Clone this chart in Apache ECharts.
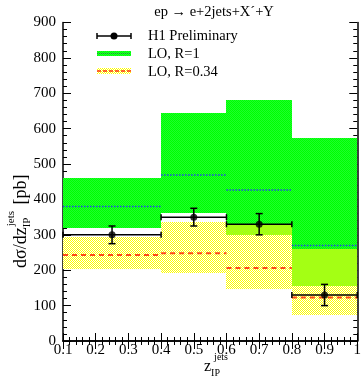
<!DOCTYPE html>
<html>
<head>
<meta charset="utf-8">
<script src="https://cdn.jsdelivr.net/npm/echarts@6/dist/echarts.min.js"></script>
<style>
  html, body { margin: 0; padding: 0; background: #fff; }
  #chart { width: 364px; height: 379px; }
</style>
</head>
<body>
<div id="chart"></div>
<script>
// Bin edges in z_IP^jets
const binLo = [0.1, 0.4, 0.6, 0.8];
const binHi = [0.4, 0.6, 0.8, 1.0];

// LO prediction, R = 1 (band and central value) [pb]
const r1Low     = [318, 362, 300, 156];
const r1High    = [462, 643, 680, 573];
const r1Central = [380, 469, 427, 270];

// LO prediction, R = 0.34 (band and central value) [pb]
const r034Low     = [203, 191, 147, 73];
const r034High    = [293, 337, 327, 259];
const r034Central = [243, 248, 206, 123];

// H1 preliminary measurement
const dataX   = [0.25, 0.5, 0.7, 0.9];
const dataY   = [300, 350, 330, 130];
const dataErr = [25, 25, 30, 30];

const yTicks = [0, 100, 200, 300, 400, 500, 600, 700, 800, 900];

const SERIF = "'Liberation Serif', 'DejaVu Serif', serif";

// Opaque 2x2 dithered fill tiles
function makeTile(colA, colB) {
  const c = document.createElement('canvas');
  c.width = 2; c.height = 2;
  const g = c.getContext('2d');
  g.fillStyle = colA; g.fillRect(0, 0, 1, 1); g.fillRect(1, 1, 1, 1);
  g.fillStyle = colB; g.fillRect(1, 0, 1, 1); g.fillRect(0, 1, 1, 1);
  return { type: 'pattern', image: c, repeat: 'repeat' };
}
const greenFill   = makeTile('#00ff00', '#1cff2c');
const yellowFill  = makeTile('#ffff00', '#ffffff');
const overlapFill = '#a4ff14';

function rectSeries(rows, fill, z) {
  return {
    type: 'custom',
    coordinateSystem: 'cartesian2d',
    z: z,
    silent: true,
    data: rows,
    renderItem: (params, api) => {
      const p0 = api.coord([api.value(0), api.value(3)]);
      const p1 = api.coord([api.value(1), api.value(2)]);
      return {
        type: 'rect',
        shape: { x: Math.round(p0[0]), y: Math.round(p0[1]),
                 width: Math.round(p1[0]) - Math.round(p0[0]),
                 height: Math.round(p1[1]) - Math.round(p0[1]) },
        style: { fill: fill }
      };
    }
  };
}
const r1Rows   = binLo.map((b, i) => [binLo[i], binHi[i], r1Low[i], r1High[i]]);
const r034Rows = binLo.map((b, i) => [binLo[i], binHi[i], r034Low[i], r034High[i]]);
// Where the two bands overlap the colours mix
const overlapRows = binLo.map((b, i) => [binLo[i], binHi[i],
  Math.max(r1Low[i], r034Low[i]), Math.min(r1High[i], r034High[i])])
  .filter(r => r[3] > r[2]);

function centralSeries(vals, color, width, dash, z) {
  return {
    type: 'custom',
    coordinateSystem: 'cartesian2d',
    z: z,
    silent: true,
    data: binLo.map((b, i) => [binLo[i], binHi[i], vals[i]]),
    renderItem: (params, api) => {
      const a = api.coord([api.value(0), api.value(2)]);
      const b = api.coord([api.value(1), api.value(2)]);
      return {
        type: 'line',
        shape: { x1: a[0], y1: a[1], x2: b[0], y2: b[1] },
        style: { stroke: color, lineWidth: width, lineDash: dash }
      };
    }
  };
}

// Error bars: full bin width horizontally, statistical error vertically
const errorSeries = {
  type: 'custom',
  coordinateSystem: 'cartesian2d',
  z: 10,
  silent: true,
  data: dataX.map((x, i) => [binLo[i], binHi[i], x, dataY[i], dataErr[i]]),
  renderItem: (params, api) => {
    const y = api.value(3), e = api.value(4);
    const l = api.coord([api.value(0), y]);
    const r = api.coord([api.value(1), y]);
    const top = api.coord([api.value(2), y + e]);
    const bot = api.coord([api.value(2), y - e]);
    const st = { stroke: '#000', lineWidth: 1.5 };
    return {
      type: 'group',
      children: [
        { type: 'line', shape: { x1: l[0], y1: l[1], x2: r[0], y2: r[1] }, style: st },
        { type: 'line', shape: { x1: l[0], y1: l[1] - 3, x2: l[0], y2: l[1] + 3 }, style: st },
        { type: 'line', shape: { x1: r[0], y1: r[1] - 3, x2: r[0], y2: r[1] + 3 }, style: st },
        { type: 'line', shape: { x1: top[0], y1: top[1], x2: bot[0], y2: bot[1] }, style: st },
        { type: 'line', shape: { x1: top[0] - 3.5, y1: top[1], x2: top[0] + 3.5, y2: top[1] }, style: st },
        { type: 'line', shape: { x1: bot[0] - 3.5, y1: bot[1], x2: bot[0] + 3.5, y2: bot[1] }, style: st }
      ]
    };
  }
};

const pointSeries = {
  type: 'scatter',
  z: 11,
  silent: true,
  symbol: 'circle',
  symbolSize: 7,
  itemStyle: { color: '#000' },
  data: dataX.map((x, i) => [x, dataY[i]])
};

// Text measurement for composed axis titles
const mctx = document.createElement('canvas').getContext('2d');
function tw(text, size) { mctx.font = size + 'px ' + SERIF; return mctx.measureText(text).width; }

function txt(x, y, text, size, align, vAlign) {
  return {
    type: 'text', x: x, y: y, silent: true,
    style: { text: text, font: size + 'px ' + SERIF, fill: '#000', align: align || 'left', verticalAlign: vAlign || 'middle' }
  };
}

// y-axis title: dσ/dz_IP^jets [pb], reading upwards
const yMain = 'dσ/dz', ySize = 18, yScript = 11;
const w1 = tw(yMain, ySize);
const wSup = Math.max(tw('jets', yScript), tw('IP', yScript));
const yTitle = {
  type: 'group', x: 21, y: 268, rotation: Math.PI / 2,
  children: [
    txt(0, 0, yMain, ySize),
    txt(w1, 6, 'IP', yScript),
    txt(w1 + 1, -10, 'jets', yScript),
    txt(w1 + wSup + 3, 0, ' [pb]', ySize)
  ]
};

// x-axis title: z_IP^jets
const xTitle = {
  type: 'group', x: 204, y: 367,
  children: [
    txt(0, 0, 'z', 16),
    txt(tw('z', 16), 6, 'IP', 10),
    txt(tw('z', 16) + 3, -10, 'jets', 10)
  ]
};

// Legend
const lgX0 = 97, lgX1 = 131, lgTextX = 148;
const legend = [
  { type: 'line', shape: { x1: lgX0, y1: 36, x2: lgX1, y2: 36 }, style: { stroke: '#000', lineWidth: 1.5 } },
  { type: 'line', shape: { x1: lgX0, y1: 33, x2: lgX0, y2: 39 }, style: { stroke: '#000', lineWidth: 1.5 } },
  { type: 'line', shape: { x1: lgX1, y1: 33, x2: lgX1, y2: 39 }, style: { stroke: '#000', lineWidth: 1.5 } },
  { type: 'circle', shape: { cx: 114, cy: 36, r: 3.5 }, style: { fill: '#000' } },
  txt(lgTextX, 36, 'H1 Preliminary', 14.5),

  { type: 'rect', shape: { x: lgX0, y: 51, width: lgX1 - lgX0, height: 5 }, style: { fill: greenFill } },
  { type: 'line', shape: { x1: lgX0, y1: 53.5, x2: lgX1, y2: 53.5 }, style: { stroke: '#2a8a40', lineWidth: 1, lineDash: [1, 1] } },
  txt(lgTextX, 54, 'LO, R=1', 14.5),

  { type: 'rect', shape: { x: lgX0, y: 68, width: lgX1 - lgX0, height: 6 }, style: { fill: yellowFill } },
  { type: 'line', shape: { x1: lgX0, y1: 71, x2: lgX1, y2: 71 }, style: { stroke: '#ff3010', lineWidth: 1.5, lineDash: [4, 2] } },
  txt(lgTextX, 72, 'LO, R=0.34', 14.5),

  txt(214, 12, 'ep \u2192 e+2jets+X\u00b4+Y', 14.5, 'center'),
  yTitle,
  xTitle
].map(e => Object.assign({ z: 20 }, e));

const axisCommon = {
  type: 'value',
  axisLine: { show: true, lineStyle: { color: '#000', width: 1.5 } },
  axisTick: { show: true, inside: true, length: 8, lineStyle: { color: '#000', width: 1 } },
  minorTick: { show: true, splitNumber: 5, length: 4, lineStyle: { color: '#000', width: 1 } },
  splitLine: { show: false },
  minorSplitLine: { show: false }
};

const chart = echarts.init(document.getElementById('chart'), null, { renderer: 'canvas' });
chart.setOption({
  animation: false,
  backgroundColor: '#fff',
  grid: { left: 63, right: 1, top: 22.5, bottom: 38, containLabel: false },
  xAxis: [
    Object.assign({}, axisCommon, {
      position: 'bottom', min: 0.1, max: 1.0, interval: 0.1,
      axisLabel: {
        show: true, margin: 2, color: '#000', fontFamily: SERIF, fontSize: 15,
        formatter: v => (Math.abs(v - 1) < 1e-9 ? '1' : v.toFixed(1))
      }
    }),
    Object.assign({}, axisCommon, {
      position: 'top', min: 0.1, max: 1.0, interval: 0.1,
      axisLabel: { show: false }
    })
  ],
  yAxis: [
    Object.assign({}, axisCommon, {
      position: 'left', min: yTicks[0], max: yTicks[yTicks.length - 1], interval: 100,
      axisLabel: { show: true, margin: 7, color: '#000', fontFamily: SERIF, fontSize: 15 }
    }),
    Object.assign({}, axisCommon, {
      position: 'right', min: yTicks[0], max: yTicks[yTicks.length - 1], interval: 100,
      axisLabel: { show: false }
    })
  ],
  series: [
    rectSeries(r1Rows, greenFill, 1),
    rectSeries(r034Rows, yellowFill, 2),
    rectSeries(overlapRows, overlapFill, 3),
    centralSeries(r1Central, '#2244ee', 1.5, [1.5, 1.5], 4),
    centralSeries(r034Central, '#ff4a1a', 2, [5, 4], 5),
    errorSeries,
    pointSeries
  ],
  graphic: legend
});
</script>
</body>
</html>
